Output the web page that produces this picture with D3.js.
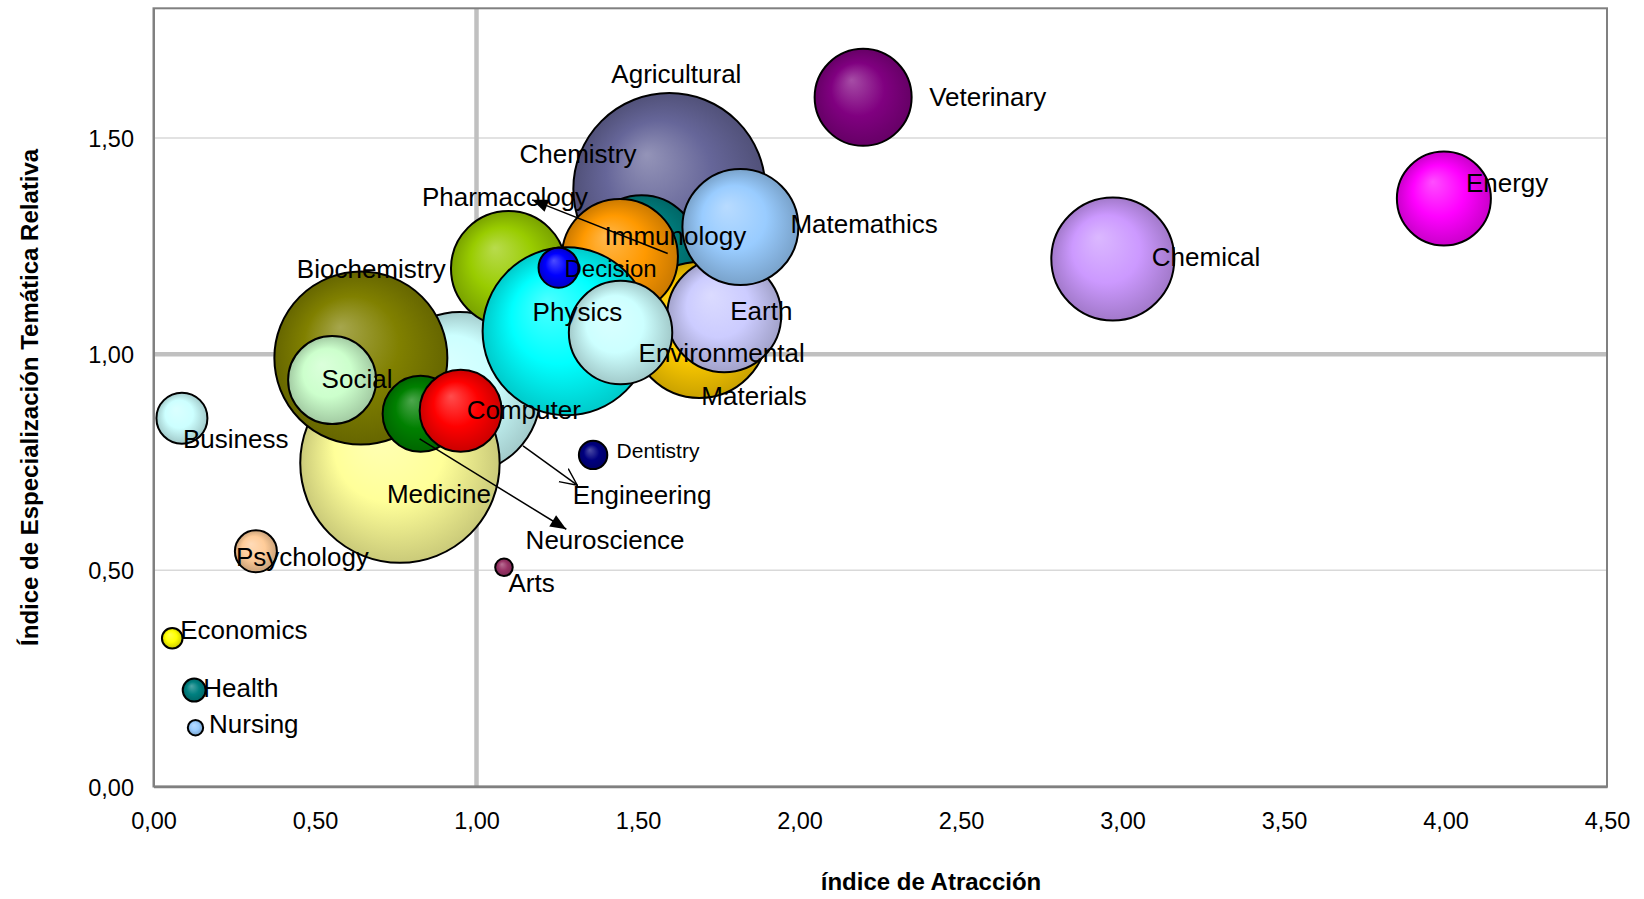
<!DOCTYPE html>
<html><head><meta charset="utf-8">
<script src="https://cdn.jsdelivr.net/npm/d3@7"></script>
<style>
body{margin:0;background:#fff}
svg{display:block}
text{font-family:"Liberation Sans",Arial,sans-serif;fill:#000}
</style>
</head><body>
<svg id="chart" width="1644" height="899"></svg>
<script>
// ---------- DATA (draw order = array order) ----------
const areas = ["Agricultural","Engineering","Medicine","Biochemistry","Social","Neuroscience","Computer",
  "Chemistry","Immunology","Materials","Pharmacology","Earth","Matemathics","Physics","Environmental","Decision",
  "Veterinary","Chemical","Energy","Business","Psychology","Dentistry","Arts","Economics","Health","Nursing"];
const attraction = [1.597,0.948,0.763,0.642,0.553,0.827,0.951,
  1.099,1.511,1.690,1.444,1.767,1.817,1.279,1.446,1.254,
  2.197,2.970,3.995,0.088,0.317,1.361,1.085,0.058,0.126,0.130];
const specialization = [1.382,0.910,0.748,0.991,0.940,0.862,0.869,
  1.198,1.236,1.056,1.225,1.090,1.294,1.053,1.050,1.200,
  1.594,1.220,1.360,0.852,0.544,0.767,0.507,0.343,0.223,0.136];
const volume = [9216,6561,9940,7482,1936,1444,1681,
  3306,3249,4624,3364,3249,3364,7056,2673,400,
  2352,3782,2209,650,441,202,77,106,132,59];
const xTickValues = [0,0.5,1,1.5,2,2.5,3,3.5,4,4.5];
const yTickValues = [0,0.5,1,1.5];
const xTitle = "índice de Atracción";
const yTitle = "Índice de Especialización Temática Relativa";
// annotation arrows in data units: [x1,y1,x2,y2]
const arrowPharmacology = [1.592,1.233,1.172,1.357];
const arrowEngineering = [1.144,0.788,1.312,0.697];
const arrowNeuroscience = [0.824,0.804,1.278,0.595];

// ---------- STYLE / LAYOUT ----------
const palette = {
  Agricultural:"#666699",Engineering:"#CCFFFF",Medicine:"#FFFF99",Biochemistry:"#808000",Social:"#CCFFCC",
  Neuroscience:"#008000",Computer:"#FF0000",Chemistry:"#99CC00",Immunology:"#008080",Materials:"#FFCC00",
  Pharmacology:"#FF9900",Earth:"#CCCCFF",Matemathics:"#99CCFF",Physics:"#00FFFF",Environmental:"#CCFFFF",
  Decision:"#0000FF",Veterinary:"#800080",Chemical:"#CC99FF",Energy:"#FF00FF",Business:"#CCFFFF",
  Psychology:"#FFCC99",Dentistry:"#000080",Arts:"#993366",Economics:"#FFFF00",Health:"#008080",Nursing:"#99CCFF"
};
const labelOffset = {
  Agricultural:[-58,-106],Veterinary:[66,8.5],Energy:[22,-6.5],Chemical:[39,7],Matemathics:[50,6],
  Earth:[6,5],Materials:[2,75],Pharmacology:[-198,-51],Immunology:[-37,-7],Chemistry:[11,-105.5],
  Decision:[6,9.5],Physics:[-34,-10],Environmental:[18,29.5],Biochemistry:[-64,-80],Social:[-10.5,8],
  Engineering:[113,111],Computer:[6,8],Neuroscience:[105,135],Medicine:[-13,40],Dentistry:[23.5,3],
  Arts:[4.5,24.5],Business:[1,30],Psychology:[-20,15],Economics:[8,1],Health:[9,7],Nursing:[13.5,5.5]
};
const labelSize = {Decision:24, Dentistry:21};
const plot = {left:153.5,right:1607,top:8.3,bottom:786.5};

const svg = d3.select("#chart");
const x = d3.scaleLinear().domain([0,4.5]).range([plot.left,plot.right]);
const y = d3.scaleLinear().domain([0,1.8]).range([plot.bottom,plot.top]);
const r = d3.scaleSqrt().domain([0,10000]).range([0,100]);
const fmt = v => d3.format(".2f")(v).replace(".",",");

const data = areas.map((n,i)=>({name:n,x:attraction[i],y:specialization[i],s:volume[i]}));

// gradients
const defs = svg.append("defs");
data.forEach((d,i)=>{
  const base = palette[d.name];
  const g = defs.append("radialGradient").attr("id","g"+i)
    .attr("cx","50%").attr("cy","50%").attr("r","50%").attr("fx","38%").attr("fy","32%");
  g.append("stop").attr("offset","0%").attr("stop-color",d3.interpolateRgb(base,"#fff")(0.3));
  g.append("stop").attr("offset","55%").attr("stop-color",base);
  g.append("stop").attr("offset","100%").attr("stop-color",d3.color(base).darker(0.65));
});
function marker(id, filled){
  const m = defs.append("marker").attr("id",id).attr("viewBox","0 0 18 18")
    .attr("refX",17).attr("refY",9).attr("markerWidth",18).attr("markerHeight",18)
    .attr("markerUnits","userSpaceOnUse").attr("orient","auto");
  if(filled) m.append("path").attr("d","M1,2.5 L17,9 L1,15.5 Z").attr("fill","#000");
  else m.append("path").attr("d","M0,1 L17,9 L0,17").attr("fill","none").attr("stroke","#000").attr("stroke-width",1.4);
}
marker("mFill",true); marker("mOpen",false);

// background
svg.append("rect").attr("width",1644).attr("height",899).attr("fill","#fff");

// gridlines
svg.append("g").selectAll("line").data(yTickValues.filter(v=>v!==0 && v!==1)).join("line")
  .attr("x1",plot.left).attr("x2",plot.right).attr("y1",d=>y(d)).attr("y2",d=>y(d))
  .attr("stroke","#d9d9d9").attr("stroke-width",1.5);
// reference lines at 1
svg.append("line").attr("x1",plot.left).attr("x2",plot.right).attr("y1",y(1)).attr("y2",y(1))
  .attr("stroke","#c0c0c0").attr("stroke-width",4.5);
svg.append("line").attr("x1",x(1)).attr("x2",x(1)).attr("y1",plot.top).attr("y2",plot.bottom)
  .attr("stroke","#c0c0c0").attr("stroke-width",4.5);

// plot border
svg.append("rect").attr("x",plot.left).attr("y",plot.top)
  .attr("width",plot.right-plot.left).attr("height",plot.bottom-plot.top)
  .attr("fill","none").attr("stroke","#808080").attr("stroke-width",2);

// axes
const xAxis = d3.axisBottom(x).tickValues(xTickValues).tickFormat(fmt).tickSize(0).tickPadding(0);
const gx = svg.append("g").attr("transform",`translate(0,${plot.bottom})`).call(xAxis);
gx.select(".domain").attr("stroke","#808080").attr("stroke-width",2.5);
gx.selectAll("text").attr("font-size",23.5).attr("font-family","Liberation Sans, Arial, sans-serif")
  .attr("dy",null).attr("y",42.5).attr("fill","#000");
const yAxis = d3.axisLeft(y).tickValues(yTickValues).tickFormat(fmt).tickSize(0).tickPadding(0);
const gy = svg.append("g").attr("transform",`translate(${plot.left},0)`).call(yAxis);
gy.select(".domain").attr("stroke","#808080").attr("stroke-width",2);
gy.selectAll("text").attr("font-size",23.5).attr("font-family","Liberation Sans, Arial, sans-serif")
  .attr("x",-19.5).attr("dy",null).attr("y",8.5).attr("fill","#000");

// bubbles
svg.append("g").selectAll("circle").data(data).join("circle")
  .attr("cx",d=>x(d.x)).attr("cy",d=>y(d.y)).attr("r",d=>r(d.s))
  .attr("fill",(d,i)=>`url(#g${i})`).attr("stroke","#000").attr("stroke-width",2);

// arrows
function arrow(a, m){
  svg.append("line").attr("x1",x(a[0])).attr("y1",y(a[1])).attr("x2",x(a[2])).attr("y2",y(a[3]))
    .attr("stroke","#000").attr("stroke-width",1.5).attr("marker-end",`url(#${m})`);
}
arrow(arrowPharmacology,"mFill");
arrow(arrowEngineering,"mOpen");
arrow(arrowNeuroscience,"mFill");

// labels
svg.append("g").selectAll("text").data(data).join("text")
  .attr("x",d=>x(d.x)+labelOffset[d.name][0]).attr("y",d=>y(d.y)+labelOffset[d.name][1])
  .attr("font-size",d=>labelSize[d.name]||26).text(d=>d.name);

// axis titles
svg.append("text").attr("x",931).attr("y",890).attr("text-anchor","middle")
  .attr("font-size",24).attr("font-weight","bold").text(xTitle);
svg.append("text").attr("transform",`translate(38,${(plot.top+plot.bottom)/2}) rotate(-90)`)
  .attr("text-anchor","middle").attr("font-size",24).attr("font-weight","bold").text(yTitle);
</script>
</body></html>
